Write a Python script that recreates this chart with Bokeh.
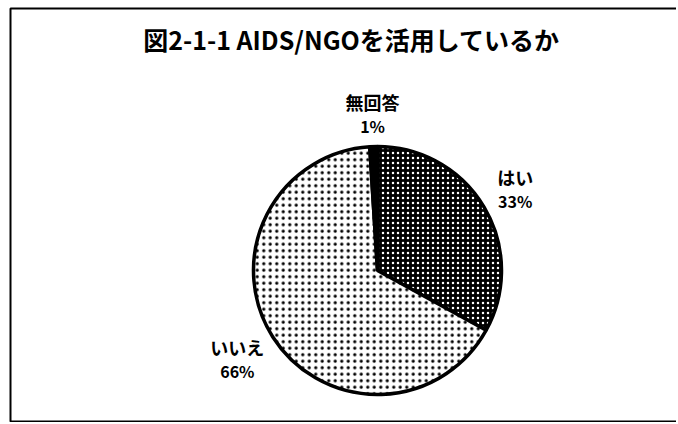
import math
from bokeh.plotting import figure
from bokeh.models import Range1d
from bokeh.core.properties import value
from bokeh.embed import file_html
from bokeh.resources import INLINE

title_text = "図2-1-1 AIDS/NGOを活用しているか"
categories = ["はい", "いいえ", "無回答"]
percents = [33, 66, 1]

W, H = 676, 422
p = figure(width=W, height=H, output_backend="svg", toolbar_location=None,
           x_range=Range1d(0, W), y_range=Range1d(-H, 0),
           min_border=0, min_border_left=0, min_border_right=0,
           min_border_top=0, min_border_bottom=0)
p.axis.visible = False
p.grid.visible = False
p.outline_line_color = None
p.background_fill_color = "white"
p.border_fill_color = "white"

# frame border
p.quad(left=[10], right=[680], top=[-8], bottom=[-421], fill_color=None,
       line_color="black", line_width=2)

cx, cy, r = 377, -270, 124
total = sum(percents)
starts, ends = [], []
a = 90.0
for v in percents:
    starts.append(math.radians(a))
    a -= 360.0 * v / total
    ends.append(math.radians(a))

fills = ["black", "white", "black"]
hatches = ["dot", "dot", " "]
hcolors = ["white", "black", "black"]
hscale = [5, 6.5, 6]
hweight = [3, 2.8, 1]
for i in range(3):
    p.wedge(x=[cx], y=[cy], radius=r, start_angle=[starts[i]], end_angle=[ends[i]],
            direction="clock", fill_color=fills[i], line_color="black", line_width=3.5,
            hatch_pattern=hatches[i], hatch_color=hcolors[i],
            hatch_scale=hscale[i], hatch_weight=hweight[i])

# labels placed outside each slice's mid-angle
lab_r = [160, 166, 157]
lx, ly1, ly2, names, pcts = [], [], [], [], []
for i in range(3):
    mid = (starts[i] + ends[i]) / 2
    x = cx + lab_r[i] * math.cos(mid)
    y = cy + lab_r[i] * math.sin(mid)
    lx.append(x)
    ly1.append(y + 12)
    ly2.append(y - 12)
    names.append(categories[i])
    pcts.append(f"{percents[i]}%")

p.text(x=lx, y=ly1, text=names, text_align="center", text_baseline="middle",
       text_font=value("Noto Sans CJK JP"), text_font_style="bold",
       text_font_size="18px", text_color="black")
p.text(x=lx, y=ly2, text=pcts, text_align="center", text_baseline="middle",
       text_font=value("Noto Sans CJK JP"), text_font_style="bold",
       text_font_size="16px", text_color="black")

p.text(x=[351], y=[-38], text=[title_text], text_align="center", text_baseline="middle",
       text_font=value("Noto Sans CJK JP"), text_font_style="bold",
       text_font_size="25px", text_color="black")

open("out.html", "w").write(file_html(p, INLINE))
